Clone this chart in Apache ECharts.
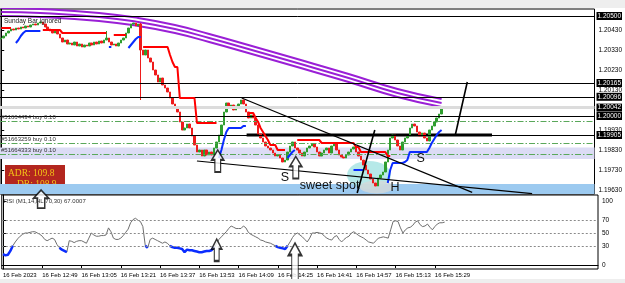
<!DOCTYPE html>
<html><head><meta charset="utf-8">
<script src="https://cdn.jsdelivr.net/npm/echarts@6/dist/echarts.min.js"></script>
<style>html,body{margin:0;padding:0;background:#fff}#c{width:625px;height:283px}</style>
</head><body><div id="c"></div>
<script>
// ---------- data ----------
const tickLabels = ['16 Feb 2023','16 Feb 12:49','16 Feb 13:05','16 Feb 13:21','16 Feb 13:37','16 Feb 13:53','16 Feb 14:09','16 Feb 14:25','16 Feb 14:41','16 Feb 14:57','16 Feb 15:13','16 Feb 15:29'];
const slotCount = 243;           // minute slots visible in the window
const firstOpen = 1.20385;
const closes = [
1.20390,1.20400,1.20415,1.20425,1.20435,1.20430,1.20440,1.20435,1.20445,1.20440,
1.20450,1.20445,1.20455,1.20460,1.20455,1.20465,1.20470,1.20460,1.20445,1.20435,
1.20425,1.20415,1.20430,1.20410,1.20390,1.20370,1.20380,1.20360,1.20365,1.20355,
1.20370,1.20350,1.20360,1.20345,1.20355,1.20350,1.20365,1.20355,1.20370,1.20360,
1.20375,1.20365,1.20380,1.20390,1.20370,1.20355,1.20360,1.20350,1.20365,1.20380,
1.20390,1.20415,1.20440,1.20460,1.20465,1.20450,1.20460,1.20330,1.20305,1.20330,
1.20290,1.20270,1.20230,1.20205,1.20170,1.20190,1.20155,1.20140,1.20120,1.20090,
1.20060,1.20040,1.20020,1.19970,1.19930,1.19940,1.19960,1.19940,1.19900,1.19855,
1.19820,1.19830,1.19800,1.19830,1.19805,1.19820,1.19805,1.19840,1.19870,1.19905,
1.19955,1.20020,1.20065,1.20040,1.20055,1.20030,1.20050,1.20060,1.20080,1.20060,
1.20020,1.19990,1.20005,1.19990,1.19955,1.19910,1.19890,1.19870,1.19850,1.19840,
1.19830,1.19815,1.19800,1.19805,1.19790,1.19770,1.19780,1.19820,1.19850,1.19870,
1.19840,1.19830,1.19815,1.19800,1.19820,1.19840,1.19850,1.19860,1.19845,1.19820,
1.19800,1.19815,1.19830,1.19840,1.19815,1.19850,1.19860,1.19830,1.19805,1.19795,
1.19790,1.19805,1.19820,1.19835,1.19845,1.19820,1.19800,1.19780,1.19755,1.19730,
1.19710,1.19685,1.19665,1.19650,1.19690,1.19705,1.19720,1.19770,1.19830,1.19890,
1.19905,1.19880,1.19850,1.19830,1.19870,1.19890,1.19900,1.19940,1.19960,1.19950,
1.19920,1.19900,1.19915,1.19890,1.19875,1.19930,1.19950,1.19970,1.19990,1.20010,
1.20040];
const wickHigh = {43:1.20425, 57:1.20465};
const wickLow = {57:1.20080};

const rsiValues = [
17,15,16,22,30,36,41,45,48,50, 50,51,52,52,50,48,45,40,38,40,
42,40,32,27,24,22,20,38,37,35, 37,38,38,36,34,42,50,47,45,45,
46,46,47,58,52,42,40,40,42,46, 51,56,66,71,73,70,68,60,30,27,
40,42,40,38,36,34,36,34,30,28, 27,27,26,25,20,24,23,23,22,21,
20,20,21,22,22,23,28,33,40,44, 48,52,57,61,59,57,57,57,61,58,
51,48,46,44,42,39,38,36,35,34, 32,30,28,27,26,25,30,36,43,48,
50,47,44,40,36,42,50,50,51,50, 49,45,42,40,39,44,46,40,36,40,
43,45,50,52,49,46,44,42,39,36, 35,34,38,42,43,44,43,42,55,68,
69,68,58,50,55,58,59,62,67,69, 63,60,61,64,59,55,60,64,66,66,
67];
const rsiOversold = 30;

// stop-line levels: [fromBar, toBar, price]
const redLevels = [[0,4,1.20440],[17,24,1.20430],[25,43,1.20415],[46,51,1.20405],[58,68,1.20345],[69,69,1.20305],[70,70,1.20270],[71,72,1.20245],[73,79,1.20090],[80,88,1.19965],[101,103,1.20015],[104,104,1.19990],[105,105,1.19970],[106,106,1.19940],[107,107,1.19920],[108,108,1.19900],[109,109,1.19880],[110,112,1.19855],[113,116,1.19830],[121,130,1.19880],[131,144,1.19865],[145,146,1.19845],[147,157,1.19820],[158,159,1.19800]];
const blueLevels = [[6,6,1.20365],[7,7,1.20380],[8,8,1.20400],[9,9,1.20415],[10,16,1.20425],[44,45,1.20345],[52,52,1.20340],[53,53,1.20355],[54,54,1.20370],[55,55,1.20385],[56,57,1.20395],[89,89,1.19790],[90,90,1.19830],[91,91,1.19880],[92,92,1.19920],[93,98,1.19940],[99,100,1.19950],[117,117,1.19790],[118,118,1.19805],[119,119,1.19820],[120,120,1.19830],[144,148,1.19730],[158,158,1.19665],[159,159,1.19730],[160,164,1.19765],[165,165,1.19770],[166,166,1.19780],[167,174,1.19820],[175,175,1.19840],[176,176,1.19865],[177,177,1.19885],[178,178,1.19905],[179,179,1.19920],[180,180,1.19930]];

// purple envelope: [bar, price]
const purpleTop = [[0,1.20540],[16,1.20535],[40,1.20515],[56,1.20490],[71,1.20455],[85,1.20410],[101,1.20355],[121,1.20285],[142,1.20210],[162,1.20135],[180,1.20085]];
const purpleMid = [[0,1.20520],[16,1.20515],[40,1.20495],[56,1.20470],[71,1.20435],[85,1.20390],[101,1.20335],[121,1.20265],[142,1.20190],[162,1.20115],[180,1.20065]];
const purpleLow = [[0,1.20500],[16,1.20495],[40,1.20475],[56,1.20450],[71,1.20415],[85,1.20370],[101,1.20315],[121,1.20245],[142,1.20170],[162,1.20095],[180,1.20045]];

const blackLevels = [1.20500, 1.20165, 1.20096, 1.20000, 1.19905];
const bidLevel = 1.20042;
const orderLevels = [1.19975, 1.19865, 1.19810];
const orderLabels = ['#51664494 buy 0.10', '#51663259 buy 0.10', '#51664333 buy 0.10'];
const strongLevel = [[100.3, 1.19905], [200.6, 1.19905]];
const lavenderBand = [1.19785, 1.19842];
const blueBand = [1.19600, 1.19660];
const priceTicks = [1.19630, 1.19730, 1.19830, 1.19930, 1.20130, 1.20230, 1.20330, 1.20430];
const rsiTicks = [0, 30, 50, 70, 100];
const rsiLevels = [30, 50, 70];

const trendUpper = [[98.3, 1.20090], [192.5, 1.19618]];
const trendLower = [[80, 1.19775], [217, 1.19612]];
const steepLeft = [[145.5, 1.19615], [152.7, 1.19930]];
const steepRight = [[185.6, 1.19905], [190.5, 1.20170]];

const sweetBlob = [150.3, 1.19705];
const sweetShadow = [153.5, 1.19645];
const chartTexts = [
  {name: 'S', value: [116, 1.19690]},
  {name: 'sweet spot', value: [134.2, 1.19650]},
  {name: 'H', value: [161, 1.19640]},
  {name: 'S', value: [171.4, 1.19788]}
];
const mainArrows = [[88.5, 1.19775], [120.4, 1.197425]];
const rsiArrows = [[15.55, 103.1], [87.1, 23.4], [119.0, 3.1]];

// ---------- build ----------
const startMinute = 12 * 60 + 33;
const categories = Array.from({length: slotCount}, (_, i) => {
  const m = startMinute + i;
  return String(Math.floor(m / 60)).padStart(2, '0') + ':' + String(m % 60).padStart(2, '0');
});
const opens = closes.map((c, i) => i === 0 ? firstOpen : closes[i - 1]);
const candleData = closes.map((c, i) => {
  const o = opens[i];
  let lo = Math.min(o, c), hi = Math.max(o, c);
  if (wickLow[i] !== undefined) lo = Math.min(lo, wickLow[i]);
  if (wickHigh[i] !== undefined) hi = Math.max(hi, wickHigh[i]);
  return [o, c, lo, hi];
});
function expand(levels) {
  const a = new Array(closes.length).fill(null);
  levels.forEach(([s, e, v]) => { for (let i = s; i <= e; i++) a[i] = v; });
  return a;
}
const redData = expand(redLevels);
const blueData = expand(blueLevels);
const rsiBlue = rsiValues.map(v => v <= rsiOversold ? v : null);

const FONT = 'Liberation Sans';
const boxLabel = v => ({show: true, position: 'end', distance: 2, formatter: v.toFixed(5), color: '#fff', backgroundColor: '#000', fontSize: 6.5, padding: [1, 1, 0, 1], fontFamily: FONT});

const levelLines = [];
levelLines.push({yAxis: bidLevel, lineStyle: {color: '#dcdcdc', width: 3, type: 'solid', opacity: 1}, label: boxLabel(bidLevel)});
orderLevels.forEach((v, k) => levelLines.push({
  yAxis: v, lineStyle: {color: '#5aa85a', width: 1, type: [6, 2, 1.5, 2], opacity: 1},
  label: {show: true, position: 'insideStartTop', distance: 1, formatter: orderLabels[k], color: '#333', fontSize: 6, fontFamily: FONT}
}));
blackLevels.forEach(v => levelLines.push({yAxis: v, lineStyle: {color: '#000', width: 1, type: 'solid', opacity: 1}, label: boxLabel(v)}));

const arrowShort = 'path://M50,0 L100,45 L74,45 L74,100 L26,100 L26,45 L0,45 Z';
const arrowLong = 'path://M50,0 L100,30 L75,30 L75,100 L25,100 L25,30 L0,30 Z';
const arrowStyle = {color: '#fff', borderColor: '#000', borderWidth: 1.6};

const chart = echarts.init(document.getElementById('c'), null, {renderer: 'canvas'});
chart.setOption({
  animation: false,
  backgroundColor: '#fff',
  textStyle: {fontFamily: FONT},
  grid: [
    {left: 0, right: 27, top: 9, height: 185, show: true, borderColor: '#000', borderWidth: 1, backgroundColor: '#fff'},
    {left: 0, right: 27, top: 195, height: 74, show: true, borderColor: '#000', borderWidth: 1, backgroundColor: '#fff'}
  ],
  xAxis: [
    {type: 'category', gridIndex: 0, data: categories, boundaryGap: true, show: false},
    {type: 'category', gridIndex: 1, data: categories, boundaryGap: true,
      axisLine: {show: true, lineStyle: {color: '#000'}},
      axisTick: {show: true, alignWithLabel: true, length: 3, lineStyle: {color: '#000'},
        interval: i => i % 16 === 0 && i / 16 < tickLabels.length},
      axisLabel: {show: true, fontSize: 6, color: '#000', align: 'left', margin: 3,
        interval: i => i % 16 === 0 && i / 16 < tickLabels.length,
        formatter: (v, i) => tickLabels[i / 16] || ''},
      splitLine: {show: false}},
    {type: 'value', gridIndex: 0, min: -0.5, max: slotCount - 0.5, show: false},
    {type: 'value', gridIndex: 1, min: -0.5, max: slotCount - 0.5, show: false}
  ],
  yAxis: [
    {type: 'value', gridIndex: 0, position: 'right', min: 1.19610, max: 1.20535, scale: true,
      splitLine: {show: false}, axisLine: {show: true, lineStyle: {color: '#000'}},
      axisTick: {show: true, length: 3, lineStyle: {color: '#000'}, customValues: priceTicks},
      axisLabel: {show: true, fontSize: 6.5, color: '#000', margin: 4, customValues: priceTicks, formatter: v => v.toFixed(5)}},
    {type: 'value', gridIndex: 1, position: 'right', min: -6.25, max: 109.4,
      splitLine: {show: false}, axisLine: {show: true, lineStyle: {color: '#000'}},
      axisTick: {show: true, length: 3, lineStyle: {color: '#000'}, customValues: rsiTicks},
      axisLabel: {show: true, fontSize: 6.5, color: '#000', margin: 4, customValues: rsiTicks}}
  ],
  series: [
    {type: 'line', name: 'bands', xAxisIndex: 0, yAxisIndex: 0, z: 1, data: closes, symbol: 'none', silent: true,
      lineStyle: {opacity: 0},
      markArea: {silent: true, data: [
        [{yAxis: lavenderBand[0], itemStyle: {color: '#dcdcf5'}}, {yAxis: lavenderBand[1]}],
        [{yAxis: blueBand[0], itemStyle: {color: '#9ccaf0'}}, {yAxis: blueBand[1]}]
      ]}},
    {type: 'scatter', xAxisIndex: 2, yAxisIndex: 0, z: 2, silent: true, symbol: 'circle', symbolSize: [44, 28],
      itemStyle: {color: '#a4e4e2'}, data: [sweetBlob]},
    {type: 'scatter', xAxisIndex: 2, yAxisIndex: 0, z: 2, silent: true, symbol: 'circle', symbolSize: [34, 13],
      itemStyle: {color: '#d4d8d8'}, data: [sweetShadow]},
    {type: 'line', name: 'levels', xAxisIndex: 0, yAxisIndex: 0, z: 3, data: closes, symbol: 'none', silent: true,
      lineStyle: {opacity: 0},
      markLine: {silent: true, precision: 5, symbol: ['none', 'none'], data: levelLines}},
    {type: 'line', xAxisIndex: 2, yAxisIndex: 0, z: 3, data: purpleTop, smooth: true, symbol: 'none', lineStyle: {color: '#9a1fd6', width: 2}},
    {type: 'line', xAxisIndex: 2, yAxisIndex: 0, z: 3, data: purpleMid, smooth: true, symbol: 'none', lineStyle: {color: '#9a1fd6', width: 2}},
    {type: 'line', xAxisIndex: 2, yAxisIndex: 0, z: 3, data: purpleLow, smooth: true, symbol: 'none', lineStyle: {color: '#9a1fd6', width: 2}},
    {type: 'line', xAxisIndex: 2, yAxisIndex: 0, z: 3, data: strongLevel, symbol: 'none', lineStyle: {color: '#000', width: 3}},
    {type: 'candlestick', xAxisIndex: 0, yAxisIndex: 0, z: 4, data: candleData, barWidth: 2,
      itemStyle: {color: '#2f9e2f', color0: '#ee1c1c', borderColor: '#2f9e2f', borderColor0: '#ee1c1c', borderWidth: 1}},
    {type: 'line', xAxisIndex: 0, yAxisIndex: 0, z: 5, data: redData, symbol: 'none', connectNulls: false, lineStyle: {color: '#ff0000', width: 2}},
    {type: 'line', xAxisIndex: 0, yAxisIndex: 0, z: 5, data: blueData, symbol: 'none', connectNulls: false, lineStyle: {color: '#0a2cff', width: 2}},
    {type: 'line', xAxisIndex: 2, yAxisIndex: 0, z: 6, data: trendUpper, symbol: 'none', lineStyle: {color: '#000', width: 1.2}},
    {type: 'line', xAxisIndex: 2, yAxisIndex: 0, z: 6, data: trendLower, symbol: 'none', lineStyle: {color: '#000', width: 1.2}},
    {type: 'line', xAxisIndex: 2, yAxisIndex: 0, z: 6, data: steepLeft, symbol: 'none', lineStyle: {color: '#000', width: 1.6}},
    {type: 'line', xAxisIndex: 2, yAxisIndex: 0, z: 6, data: steepRight, symbol: 'none', lineStyle: {color: '#000', width: 1.6}},
    {type: 'scatter', xAxisIndex: 2, yAxisIndex: 0, z: 7, silent: true, symbolSize: 1, itemStyle: {color: 'rgba(0,0,0,0)'},
      data: chartTexts,
      label: {show: true, position: 'inside', formatter: p => p.name, color: '#111', fontSize: 12.5, fontFamily: FONT,
        textBorderWidth: 0, textBorderColor: 'transparent', opacity: 1}},
    {type: 'scatter', xAxisIndex: 2, yAxisIndex: 0, z: 7, silent: true, clip: false, symbol: arrowShort,
      symbolSize: [12, 22], itemStyle: arrowStyle, data: mainArrows},
    // RSI
    {type: 'line', xAxisIndex: 1, yAxisIndex: 1, z: 3, data: rsiValues, symbol: 'none', lineStyle: {color: '#6e6e6e', width: 1},
      markLine: {silent: true, precision: 2, symbol: ['none', 'none'], label: {show: false},
        data: rsiLevels.map(v => ({yAxis: v, lineStyle: {color: '#8a8a8a', width: 1, type: [2, 2]}}))}},
    {type: 'line', xAxisIndex: 1, yAxisIndex: 1, z: 4, data: rsiBlue, symbol: 'none', connectNulls: false, lineStyle: {color: '#0a2cff', width: 2.5}},
    {type: 'scatter', xAxisIndex: 3, yAxisIndex: 1, z: 8, silent: true, clip: false,
      itemStyle: arrowStyle,
      data: [
        {value: rsiArrows[0], symbol: arrowShort, symbolSize: [15, 18]},
        {value: rsiArrows[1], symbol: arrowShort, symbolSize: [10, 22]},
        {value: rsiArrows[2], symbol: arrowLong, symbolSize: [13, 40]}
      ]}
  ],
  graphic: [
    {type: 'rect', left: 0, top: 0, shape: {width: 625, height: 8}, style: {fill: '#eeeeee'}, z: 100},
    {type: 'rect', left: 0, top: 279, shape: {width: 625, height: 4}, style: {fill: '#eeeeee'}, z: 100},
    {type: 'text', left: 4, top: 18, style: {text: 'Sunday Bar ignored', fill: '#222', font: '6.5px "Liberation Sans"'}, z: 100},
    {type: 'text', left: 4, top: 198, style: {text: 'RSI (M1,14,HL,70,30) 67.0007', fill: '#333', font: '6px "Liberation Sans"'}, z: 100},
    {type: 'group', left: 5, top: 165, z: 100, children: [
      {type: 'rect', shape: {width: 60, height: 25}, style: {fill: '#b3261e'}},
      {type: 'text', left: 3, top: 3, style: {text: 'ADR: 109.8', fill: '#f3c417', font: '9.5px "Liberation Serif"'}},
      {type: 'text', left: 12, top: 14, style: {text: 'DR: 108.9', fill: '#f3c417', font: '9.5px "Liberation Serif"'}}
    ]}
  ]
});
</script></body></html>
